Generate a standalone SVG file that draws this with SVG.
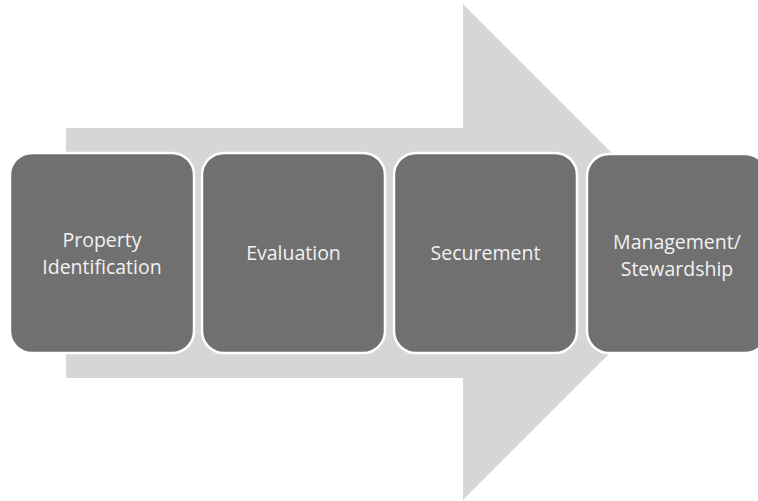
<svg xmlns="http://www.w3.org/2000/svg" width="758" height="501" viewBox="0 0 758 501">
<style>
.box{fill:#707070;stroke:#ffffff;stroke-width:2.5}
.lbl{fill:#f2f2f2;font-family:"Open Sans","Liberation Sans",sans-serif;font-size:19.5px;text-anchor:middle}
</style>
<rect width="758" height="501" fill="#ffffff"/>
<g id="arrow">
<polygon points="66,128 463,128 463,4 711,252 463,500 463,378 66,378" fill="#d6d6d6"/>
</g>
<g id="connectors"></g>
<g id="node1">
<rect class="box" x="10" y="153" width="184" height="200" rx="22" ry="22"/>
<text class="lbl" x="102" y="247">Property</text>
<text class="lbl" x="102" y="274">Identification</text>
</g>
<g id="node2">
<rect class="box" x="202" y="153" width="183" height="200" rx="22" ry="22"/>
<text class="lbl" x="293.5" y="260">Evaluation</text>
</g>
<g id="node3">
<rect class="box" x="394" y="153" width="183" height="200" rx="22" ry="22"/>
<text class="lbl" x="485.5" y="260">Securement</text>
</g>
<g id="node4">
<rect class="box" x="587" y="154" width="180" height="199" rx="22" ry="22"/>
<text class="lbl" x="677" y="249">Management/</text>
<text class="lbl" x="677" y="276">Stewardship</text>
</g>
</svg>
